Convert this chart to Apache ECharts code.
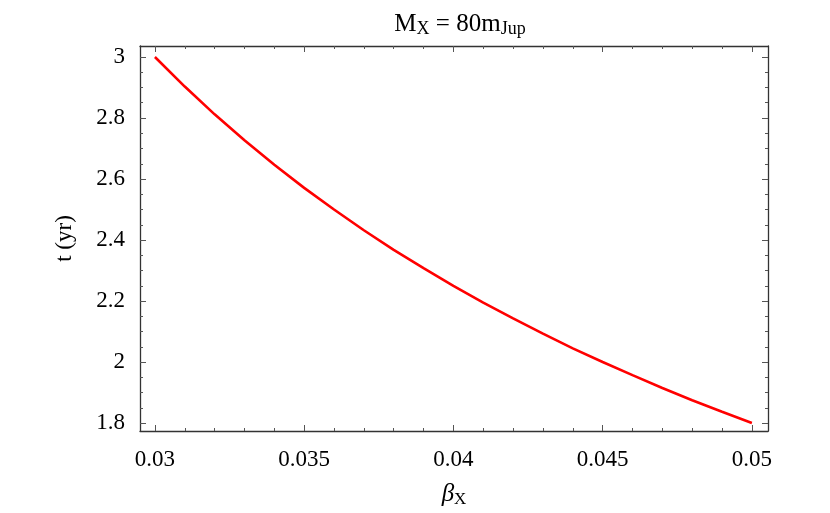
<!DOCTYPE html>
<html>
<head>
<meta charset="utf-8">
<script src="https://cdn.jsdelivr.net/npm/echarts@6/dist/echarts.min.js"></script>
<style>html,body{margin:0;padding:0;background:#fff;}#c{width:830px;height:513px;}</style>
</head>
<body>
<div id="c"></div>
<script>
// Data
var betaValues = [0.030, 0.031, 0.032, 0.033, 0.034, 0.035, 0.036, 0.037, 0.038, 0.039, 0.040,
                  0.041, 0.042, 0.043, 0.044, 0.045, 0.046, 0.047, 0.048, 0.049, 0.050];
var tValues = [3.000, 2.903, 2.812, 2.727, 2.647, 2.571, 2.500, 2.432, 2.368, 2.308, 2.250,
               2.195, 2.143, 2.093, 2.045, 2.000, 1.957, 1.915, 1.875, 1.837, 1.800];
var xMajorTicks = [0.03, 0.035, 0.04, 0.045, 0.05];
var xMinorTicks = [0.031, 0.032, 0.033, 0.034, 0.036, 0.037, 0.038, 0.039, 0.041, 0.042, 0.043, 0.044, 0.046, 0.047, 0.048, 0.049];
var yMajorTicks = [1.8, 2.0, 2.2, 2.4, 2.6, 2.8, 3.0];
var yMinorTicks = [1.85, 1.9, 1.95, 2.05, 2.1, 2.15, 2.25, 2.3, 2.35, 2.45, 2.5, 2.55, 2.65, 2.7, 2.75, 2.85, 2.9, 2.95];

var FONT = '"Liberation Serif", "DejaVu Serif", serif';
var X_MIN = 0.0295, X_MAX = 0.05054, Y_MIN = 1.774, Y_MAX = 3.036;
var lineColor = '#333';
var tickColor = '#555';

function fmt(v) { return String(+Number(v).toFixed(4)); }

function xAxisDef(pos, ticks, len, showLine, showLabel) {
  return {
    type: 'value', position: pos, min: X_MIN, max: X_MAX, gridIndex: 0,
    axisLine: { show: showLine, onZero: false, lineStyle: { color: lineColor, width: 1.3 } },
    axisTick: { show: true, inside: true, length: len, customValues: ticks, lineStyle: { color: tickColor, width: 1 } },
    axisLabel: { show: showLabel, customValues: ticks, formatter: fmt, margin: 17,
                 fontFamily: FONT, fontSize: 23, color: '#000' },
    splitLine: { show: false }
  };
}
function yAxisDef(pos, ticks, len, showLine, showLabel) {
  return {
    type: 'value', position: pos, min: Y_MIN, max: Y_MAX, gridIndex: 0,
    axisLine: { show: showLine, onZero: false, lineStyle: { color: lineColor, width: 1.3 } },
    axisTick: { show: true, inside: true, length: len, customValues: ticks, lineStyle: { color: tickColor, width: 1 } },
    axisLabel: { show: showLabel, customValues: ticks, formatter: fmt, margin: 15,
                 fontFamily: FONT, fontSize: 23, color: '#000' },
    splitLine: { show: false }
  };
}

var xAxes = [
  xAxisDef('bottom', xMajorTicks, 6, true, true),
  xAxisDef('bottom', xMinorTicks, 3, false, false),
  xAxisDef('top', xMajorTicks, 6, true, false),
  xAxisDef('top', xMinorTicks, 3, false, false)
];
xAxes[0].name = '{b|β}{s|X}';
xAxes[0].nameLocation = 'middle';
xAxes[0].nameGap = 50;
xAxes[0].nameTextStyle = {
  rich: {
    b: { fontFamily: FONT, fontSize: 25, fontStyle: 'italic', color: '#000' },
    s: { fontFamily: FONT, fontSize: 17, color: '#000', padding: [10, 0, 0, 0] }
  }
};

var yAxes = [
  yAxisDef('left', yMajorTicks, 6, true, true),
  yAxisDef('left', yMinorTicks, 3, false, false),
  yAxisDef('right', yMajorTicks, 6, true, false),
  yAxisDef('right', yMinorTicks, 3, false, false)
];
yAxes[0].name = 't (yr)';
yAxes[0].nameLocation = 'middle';
yAxes[0].nameGap = 64;
yAxes[0].nameTextStyle = { fontFamily: FONT, fontSize: 23, color: '#000' };

var option = {
  animation: false,
  backgroundColor: '#fff',
  title: {
    text: '{m|M}{s|X}{m| = 80m}{s|Jup}',
    left: 455, top: 5, textAlign: 'center',
    textStyle: {
      fontWeight: 'normal',
      rich: {
        m: { fontFamily: FONT, fontSize: 25, fontWeight: 'normal', color: '#000' },
        s: { fontFamily: FONT, fontSize: 18, fontWeight: 'normal', color: '#000', padding: [10, 0, 0, 0] }
      }
    }
  },
  grid: { left: 140, right: 62, top: 46, bottom: 80, containLabel: false },
  xAxis: xAxes,
  yAxis: yAxes,
  series: [{
    type: 'line',
    xAxisIndex: 0, yAxisIndex: 0,
    data: betaValues.map(function (b, i) { return [b, tValues[i]]; }),
    showSymbol: false,
    smooth: false,
    lineStyle: { color: '#ff0000', width: 2.6 },
    itemStyle: { color: '#ff0000' }
  }]
};

var chart = echarts.init(document.getElementById('c'), null, { renderer: 'canvas' });
chart.setOption(option);
</script>
</body>
</html>
